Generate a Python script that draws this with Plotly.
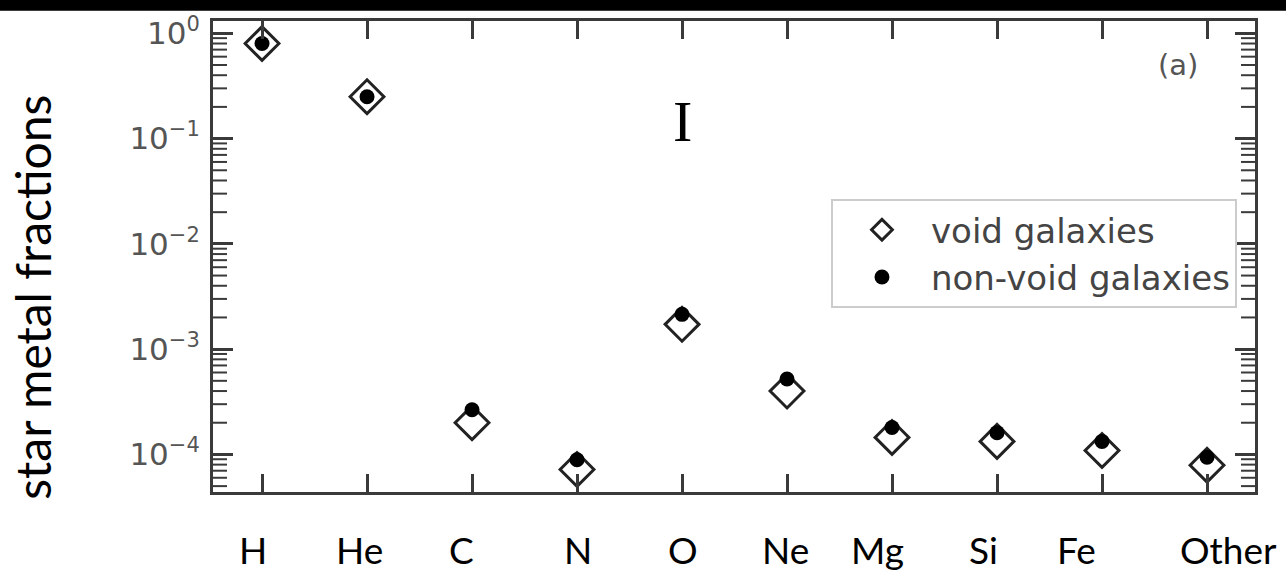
import plotly.graph_objects as go

elements = ["H", "He", "C", "N", "O", "Ne", "Mg", "Si", "Fe", "Other"]
void_frac = [0.80, 0.25, 2.0e-4, 7.2e-5, 1.72e-3, 4.0e-4, 1.45e-4, 1.33e-4, 1.09e-4, 7.9e-5]
nonvoid_frac = [0.80, 0.25, 2.66e-4, 8.9e-5, 2.14e-3, 5.2e-4, 1.80e-4, 1.61e-4, 1.33e-4, 9.4e-5]
ytick_vals = [1e-4, 1e-3, 1e-2, 1e-1, 1]
ytick_exp = ["\u22124", "\u22123", "\u22122", "\u22121", "0"]

# label offsets (px) as placed in the original slide
label_shift = [-9, -8, -11, 1, 1, -2, -15, -14, -26, 21]

xpos = list(range(len(elements)))
ytick_text = ["10<sup><span style='font-size:21px'>%s</span></sup>" % e for e in ytick_exp]
xrange_ = [-0.467, 9.457]
yrange = [-4.357, 0.117]
minor_vals = [m * 10.0 ** k for k in range(-5, 1) for m in range(2, 10)
              if 10 ** yrange[0] <= m * 10.0 ** k <= 10 ** yrange[1]]

axis_color = "#3a3a3a"

fig = go.Figure()
fig.add_trace(go.Scatter(
    x=xpos, y=void_frac, mode="markers", name="void galaxies",
    marker=dict(symbol="diamond-open", size=26, color="#222222",
                line=dict(width=3, color="#222222")),
))
fig.add_trace(go.Scatter(
    x=xpos, y=nonvoid_frac, mode="markers", name="non-void galaxies",
    marker=dict(symbol="circle", size=15, color="#000000"),
))
# minor tick marks of the log axis on both frame edges (half clipped by the plot area)
for edge in xrange_:
    fig.add_trace(go.Scatter(
        x=[edge] * len(minor_vals), y=minor_vals, mode="markers",
        showlegend=False, hoverinfo="skip", cliponaxis=True,
        marker=dict(symbol="line-ew", size=20, color=axis_color,
                    line=dict(width=2, color=axis_color)),
    ))

annotations = [
    dict(text="star metal fractions", textangle=-90, xref="paper", yref="paper",
         x=-0.174, y=0.414, xanchor="center", yanchor="middle", showarrow=False,
         font=dict(family="Lato", size=48, color="black")),
    dict(text="I", xref="x", yref="paper", x=4, y=0.714, xanchor="center",
         yanchor="bottom", showarrow=False,
         font=dict(family="Liberation Serif", size=58, color="black")),
    dict(text="(a)", xref="paper", yref="paper", x=0.926, y=0.9076,
         xanchor="center", yanchor="middle", showarrow=False,
         font=dict(family="DejaVu Sans", size=29, color="#555555")),
]
for xp, lab, sh in zip(xpos, elements, label_shift):
    annotations.append(dict(
        text=lab, xref="x", yref="paper", x=xp, y=-0.122, xshift=sh,
        xanchor="center", yanchor="middle", showarrow=False,
        font=dict(family="Lato", size=37, color="black")))

fig.update_layout(
    width=1286, height=580,
    margin=dict(l=213, r=31, t=16, b=88),
    paper_bgcolor="white", plot_bgcolor="white",
    showlegend=True,
    legend=dict(
        x=0.9827, xanchor="right", y=0.6218, yanchor="top",
        bordercolor="#cccccc", borderwidth=2, bgcolor="white",
        font=dict(family="DejaVu Sans", size=34, color="#444444"),
        itemwidth=88, tracegroupgap=0,
    ),
    xaxis=dict(
        range=xrange_, tickmode="array", tickvals=xpos, showticklabels=False,
        showgrid=False, zeroline=False, showline=True, linecolor=axis_color, linewidth=3,
        mirror="ticks", ticks="inside", ticklen=18, tickwidth=3, tickcolor=axis_color,
    ),
    yaxis=dict(
        type="log", range=yrange, tickmode="array",
        tickvals=ytick_vals, ticktext=ytick_text,
        showgrid=False, zeroline=False, showline=True, linecolor=axis_color, linewidth=3,
        mirror="allticks", ticks="inside", ticklen=20, tickwidth=3, tickcolor=axis_color,
        tickfont=dict(family="DejaVu Sans", size=31, color="#555555"),
        ticklabelstandoff=4,
    ),
    annotations=annotations,
    shapes=[
        dict(type="rect", xref="paper", yref="paper", x0=-0.3, x1=1.1,
             y0=1.0215, y1=1.06, fillcolor="black", line=dict(width=0), layer="above"),
    ],
)

fig.write_html("out.html")
